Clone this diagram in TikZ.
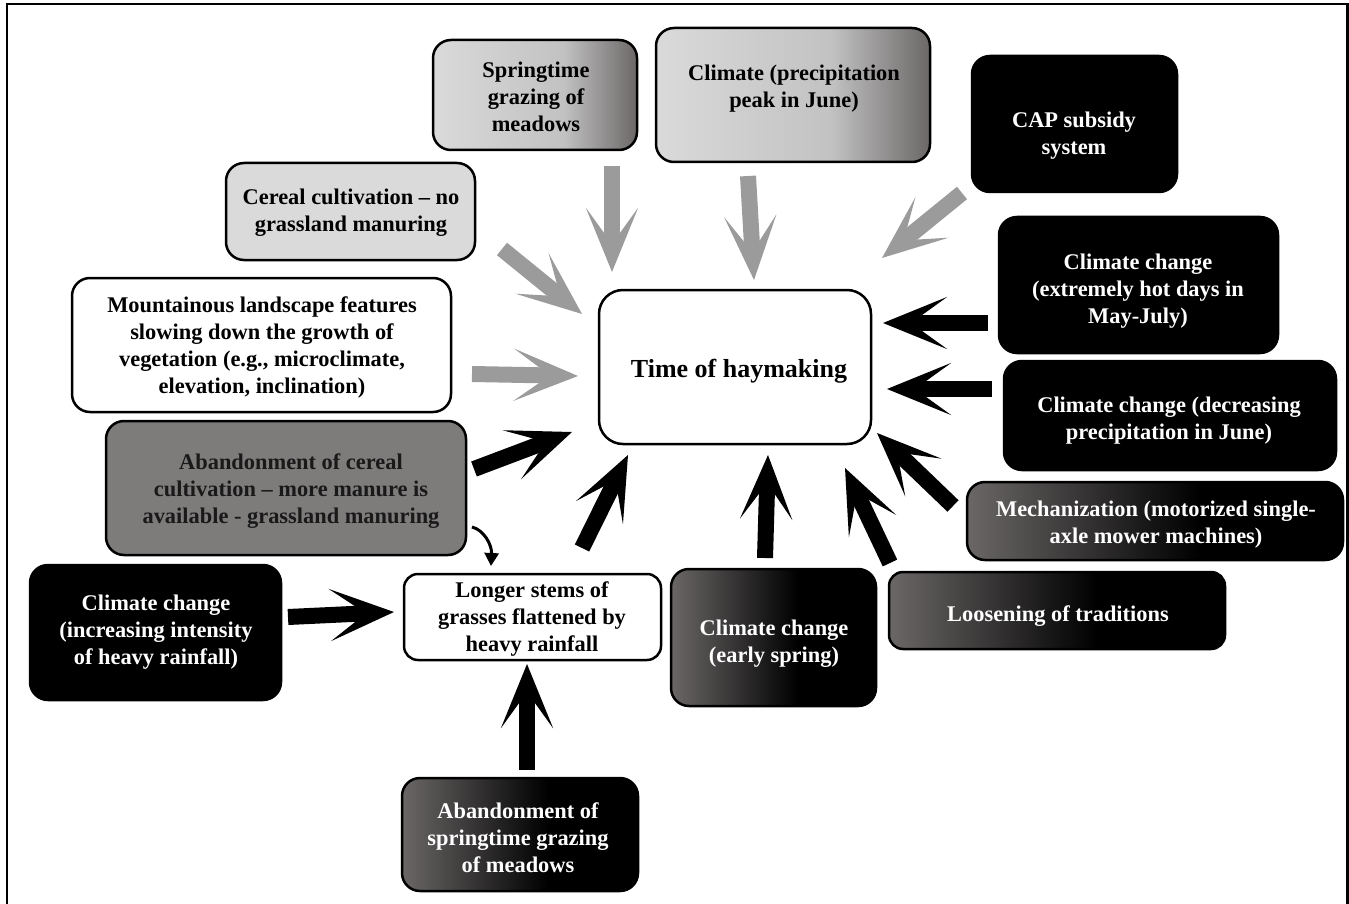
\documentclass[tikz,border=0pt]{standalone}
\usepackage{fontspec}
\setmainfont{Liberation Serif}
\usetikzlibrary{arrows.meta}
\definecolor{lightg}{HTML}{DADADA}
\definecolor{midg}{HTML}{C2C2C2}
\definecolor{darkg}{HTML}{6B6767}
\definecolor{boxgray}{HTML}{7E7B7B}
\definecolor{arrgray}{HTML}{9B9B9B}
\pgfdeclarehorizontalshading{lightgrad}{100bp}{color(0bp)=(lightg); color(25bp)=(lightg); color(57bp)=(midg); color(75bp)=(darkg); color(100bp)=(darkg)}
\pgfdeclarehorizontalshading{darkgrad}{100bp}{color(0bp)=(darkg); color(25bp)=(darkg); color(56bp)=(black); color(100bp)=(black)}
\tikzset{
  box/.style={draw=black, line width=2.5pt, rounded corners=18pt, inner sep=0pt},
  txt/.style={font=\bfseries\fontsize{22.4}{27}\selectfont, align=center, inner sep=0pt, yshift=-2pt},
  wtxt/.style={txt, text=white},
  brush/.style={line width=16pt, -{Stealth[length=64pt,width=52pt,inset=36pt]}},
  graybrush/.style={brush, draw=arrgray, color=arrgray},
  blackbrush/.style={brush, draw=black, color=black},
}
\begin{document}
\begin{tikzpicture}[x=1pt,y=-1pt]
\useasboundingbox (0,0) rectangle (1349,904);
% frame
\draw[line width=2.5pt] (7,904) -- (7,4) -- (1347.5,4) -- (1347.5,904);

% boxes
\node[box, shading=lightgrad, minimum width=204pt, minimum height=110pt] (spr) at (535,95) {};
\node[txt] (sprt) at (536,95) {Springtime\\grazing of\\meadows};

\node[box, shading=lightgrad, minimum width=274pt, minimum height=134pt] (clim) at (793,95) {};
\node[txt] (climt) at (794,86.5) {Climate (precipitation\\peak in June)};

\node[box, fill=black, minimum width=205pt, minimum height=136pt] (cap) at (1074.5,124) {};
\node[wtxt] (capt) at (1074,133.5) {CAP subsidy\\system};

\node[box, fill=lightg, minimum width=249pt, minimum height=97pt] (cer) at (350.5,211.5) {};
\node[txt] (cert) at (351,210.5) {Cereal cultivation – no\\grassland manuring};

\node[box, fill=white, minimum width=379pt, minimum height=134pt] (mnt) at (261.5,345) {};
\node[txt] (mntt) at (262,345.5) {Mountainous landscape features\\slowing down the growth of\\vegetation (e.g., microclimate,\\elevation, inclination)};

\node[box, fill=white, rounded corners=24pt, minimum width=272pt, minimum height=154pt] (time) at (735,367) {};
\node[txt, font=\bfseries\fontsize{26}{30}\selectfont] (timet) at (739,369) {Time of haymaking};

\node[box, fill=black, minimum width=279pt, minimum height=136pt] (hot) at (1138.5,285) {};
\node[wtxt] (hott) at (1138,289) {Climate change\\(extremely hot days in\\May-July)};

\node[box, fill=black, minimum width=332pt, minimum height=109pt] (dec) at (1170,415.5) {};
\node[wtxt] (dect) at (1169,418.5) {Climate change (decreasing\\precipitation in June)};

\node[box, fill=boxgray, minimum width=360pt, minimum height=134pt] (abc) at (286,488) {};
\node[txt, text=black!90] (abct) at (291,489) {Abandonment of cereal\\cultivation – more manure is\\available - grassland manuring};

\node[box, shading=darkgrad, minimum width=376pt, minimum height=78pt] (mech) at (1155,521) {};
\node[wtxt] (mecht) at (1156,522.5) {Mechanization (motorized single-\\axle mower machines)};

\node[box, fill=black, minimum width=251pt, minimum height=135pt] (inc) at (155.5,632.5) {};
\node[wtxt] (inct) at (156,630) {Climate change\\(increasing intensity\\of heavy rainfall)};

\node[box, fill=white, rounded corners=14pt, minimum width=257pt, minimum height=86pt] (lng) at (532.5,617) {};
\node[txt] (lngt) at (532,617) {Longer stems of\\grasses flattened by\\heavy rainfall};

\node[box, shading=darkgrad, minimum width=205pt, minimum height=137pt] (esp) at (773.5,637.5) {};
\node[wtxt] (espt) at (774,641.5) {Climate change\\(early spring)};

\node[box, shading=darkgrad, rounded corners=14pt, minimum width=336pt, minimum height=77pt] (loo) at (1057,610.5) {};
\node[wtxt] (loot) at (1058,614) {Loosening of traditions};

\node[box, shading=darkgrad, minimum width=236pt, minimum height=113pt] (asp) at (520,834.5) {};
\node[wtxt] (aspt) at (518,836) {Abandonment of\\springtime grazing\\of meadows};

% arrow end points
\coordinate (a1s) at (612,166);  \coordinate (a1e) at (612,272);
\coordinate (a2s) at (748,176);  \coordinate (a2e) at (754,280);
\coordinate (a3s) at (962,193);  \coordinate (a3e) at (882,258);
\coordinate (a4s) at (502,249);  \coordinate (a4e) at (582,314);
\coordinate (a5s) at (472,374);  \coordinate (a5e) at (578,376);
\coordinate (b1s) at (474,469);  \coordinate (b1e) at (572,432);
\coordinate (b2s) at (582,548);  \coordinate (b2e) at (628,455);
\coordinate (b3s) at (765,558);  \coordinate (b3e) at (768,455);
\coordinate (b4s) at (890,563);  \coordinate (b4e) at (845,468);
\coordinate (b5s) at (953,506);  \coordinate (b5e) at (877,433);
\coordinate (b6s) at (992,389);  \coordinate (b6e) at (887,389);
\coordinate (b7s) at (988,323);  \coordinate (b7e) at (883,323);
\coordinate (b8s) at (288,617);  \coordinate (b8e) at (394,612);
\coordinate (b9s) at (527,770);  \coordinate (b9e) at (527,664);
\coordinate (cs) at (472,527);   \coordinate (ce) at (491,566);

\draw[graybrush] (a1s) -- (a1e);
\draw[graybrush] (a2s) -- (a2e);
\draw[graybrush] (a3s) -- (a3e);
\draw[graybrush] (a4s) -- (a4e);
\draw[graybrush] (a5s) -- (a5e);
\draw[blackbrush] (b1s) -- (b1e);
\draw[blackbrush] (b2s) -- (b2e);
\draw[blackbrush] (b3s) -- (b3e);
\draw[blackbrush] (b4s) -- (b4e);
\draw[blackbrush] (b5s) -- (b5e);
\draw[blackbrush] (b6s) -- (b6e);
\draw[blackbrush] (b7s) -- (b7e);
\draw[blackbrush] (b8s) -- (b8e);
\draw[blackbrush] (b9s) -- (b9e);
\draw[line width=3pt, -{Triangle[length=13pt,width=14pt]}] (cs) .. controls (484,530) and (492,545) .. (ce);
\end{tikzpicture}
\end{document}
